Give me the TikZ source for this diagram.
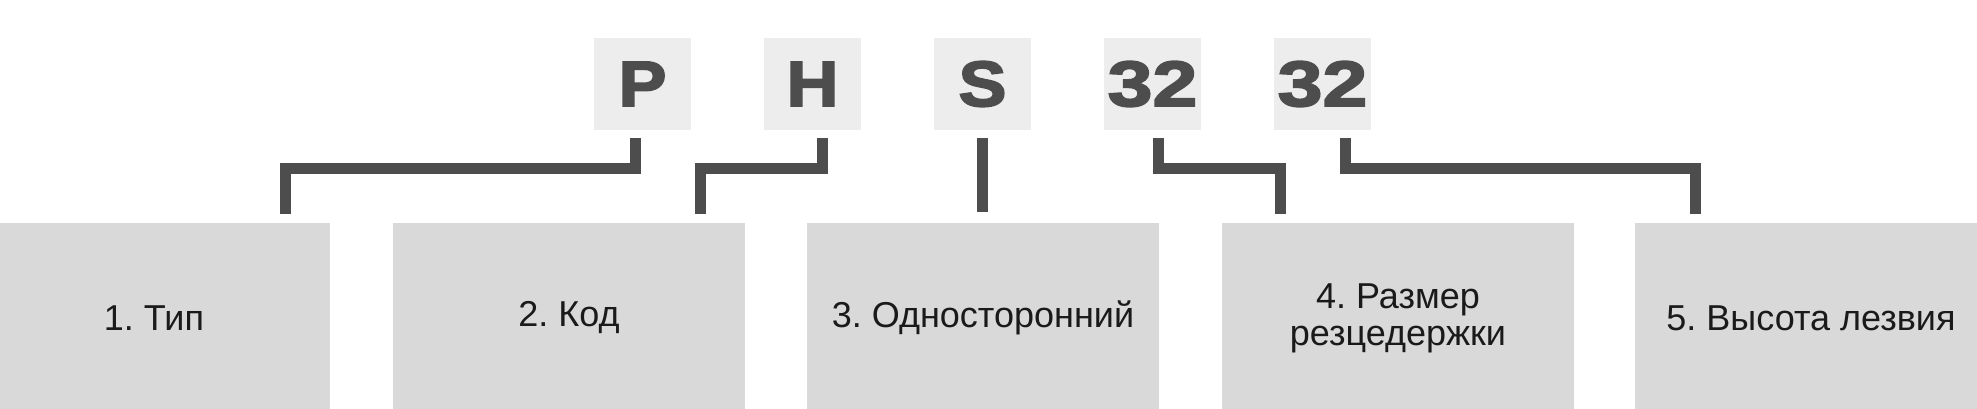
\documentclass[tikz,border=0pt]{standalone}
\usepackage{fontspec}
\setmainfont{Liberation Sans}
\newfontfamily\letrafont[FakeBold=3,FakeStretch=1.12]{Liberation Sans Bold}
\newfontfamily\cifrafont[FakeBold=3,FakeStretch=1.26]{Liberation Sans Bold}
\definecolor{oscuro}{HTML}{4D4D4D}
\definecolor{fondoletra}{HTML}{EDEDED}
\definecolor{fondocaja}{HTML}{D9D9D9}
\definecolor{texto}{HTML}{1A1A1A}
\tikzset{
  letra/.style={fill=fondoletra, text=oscuro, inner sep=0pt,
    minimum width=97pt, minimum height=92pt,
    font=\letrafont\fontsize{64}{64}\selectfont},
  cifra/.style={letra, font=\cifrafont\fontsize{64}{64}\selectfont},
  caja/.style={fill=fondocaja, text=texto, inner sep=0pt, align=center,
    minimum width=352pt, minimum height=190pt,
    font=\fontsize{36}{37}\selectfont\frenchspacing},
  conector/.style={draw=oscuro, line width=11pt, line join=miter}
}
\begin{document}
\begin{tikzpicture}[x=1pt, y=-1pt]
    \clip (0,0) rectangle (1977,409);

    % Letras
    \node[letra] (lP) at (642.5,84) {P};
    \node[letra] (lH) at (812.5,84) {H};
    \node[letra] (lS) at (982.5,84) {S};
    \node[cifra] (lA) at (1152.5,84) {32};
    \node[cifra] (lB) at (1322.5,84) {32};

    % Cajas
    \node[caja] (b1) at (154,318) {1. Тип};
    \node[caja] (b2) at (569,318) {2. Код};
    \node[caja] (b3) at (983,318) {3. Односторонний};
    \node[caja] (b4) at (1398,318) {4. Размер\\резцедержки};
    \node[caja] (b5) at (1811,318) {5. Высота лезвия};

    % Conectores
    \draw[conector] ([xshift=-7.5pt, yshift=-8pt]lP.south) -- ++(0,30)
        -| ([xshift=131pt, yshift=9pt]b1.north);
    \draw[conector] ([xshift=9.5pt, yshift=-8pt]lH.south) -- ++(0,30)
        -| ([xshift=131pt, yshift=9pt]b2.north);
    \draw[conector] ([xshift=-0.5pt, yshift=-8pt]lS.south)
        -- ([xshift=-1pt, yshift=11pt]b3.north);
    \draw[conector] ([xshift=5.5pt, yshift=-8pt]lA.south) -- ++(0,30)
        -| ([xshift=-118pt, yshift=9pt]b4.north);
    \draw[conector] ([xshift=22.5pt, yshift=-8pt]lB.south) -- ++(0,30)
        -| ([xshift=-116pt, yshift=9pt]b5.north);

\end{tikzpicture}
\end{document}
